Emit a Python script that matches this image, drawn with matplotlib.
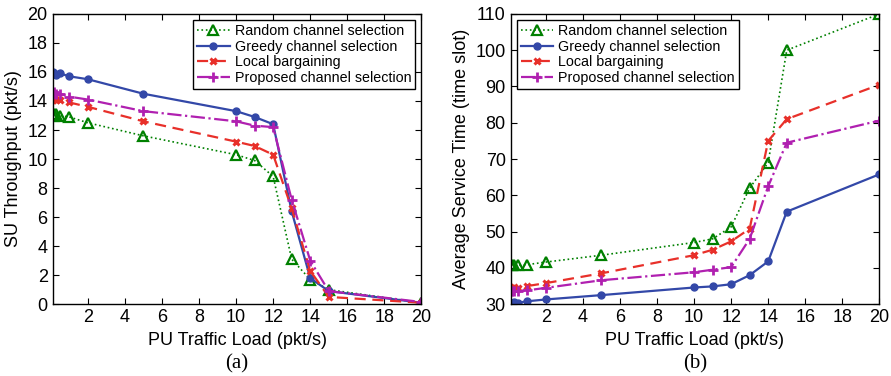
import matplotlib
matplotlib.use("Agg")
import matplotlib.pyplot as plt

plt.rcParams['font.family'] = ['Liberation Sans', 'DejaVu Sans']

# PU traffic load (pkt/s)
load = [0.1, 0.2, 0.3, 0.5, 1, 2, 5, 10, 11, 12, 13, 14, 15, 20]

# (a) SU throughput (pkt/s)
thr_random = [13.0, 13.1, 13.1, 13.0, 12.9, 12.5, 11.6, 10.3, 9.9, 8.8, 3.1, 1.7, 1.0, 0.1]
thr_greedy = [16.0, 15.9, 15.8, 15.9, 15.7, 15.5, 14.5, 13.3, 12.9, 12.4, 6.4, 1.8, 0.9, 0.1]
thr_local = [14.1, 14.2, 14.1, 14.1, 13.9, 13.6, 12.6, 11.2, 10.9, 10.3, 6.6, 2.3, 0.5, 0.1]
thr_proposed = [14.5, 14.6, 14.5, 14.5, 14.3, 14.1, 13.3, 12.6, 12.3, 12.2, 7.2, 3.0, 0.9, 0.15]

# (b) average service time (time slot)
st_random = [40.7, 40.8, 40.8, 40.7, 40.9, 41.6, 43.5, 47.0, 48.0, 51.3, 62.0, 69.0, 100.0, 110.0]
st_greedy = [30.2, 30.4, 30.5, 30.4, 30.8, 31.3, 32.5, 34.6, 34.9, 35.5, 38.0, 41.8, 55.5, 65.8]
st_local = [34.3, 34.5, 34.6, 34.5, 35.0, 35.8, 38.5, 43.5, 45.0, 47.3, 50.8, 75.0, 81.0, 90.5]
st_proposed = [33.5, 33.6, 33.6, 33.5, 33.8, 34.5, 36.6, 38.8, 39.5, 40.2, 48.0, 62.5, 74.5, 80.6]

labels = ["Random channel selection", "Greedy channel selection",
          "Local bargaining", "Proposed channel selection"]

green = "#008000"
blue = "#3348a8"
red = "#e8302a"
magenta = "#b020b0"


def draw(ax, series):
    r, g, l, p = series
    ax.plot(load, r, linestyle=':', color=green, marker='^', markersize=7,
            markerfacecolor='none', markeredgewidth=1.6, linewidth=1.2, label=labels[0])
    ax.plot(load, g, linestyle='-', color=blue, marker='o', markersize=5,
            linewidth=1.6, label=labels[1])
    ax.plot(load, l, linestyle='--', color=red, marker='x', markersize=5,
            markeredgewidth=2.2, linewidth=1.6, dashes=(5, 3), label=labels[2])
    ax.plot(load, p, linestyle='-.', color=magenta, marker='+', markersize=7,
            markeredgewidth=2.0, linewidth=1.6, label=labels[3])
    ax.set_xlim(0.1, 20)
    ax.set_xticks([2, 4, 6, 8, 10, 12, 14, 16, 18, 20])
    ax.tick_params(direction='in', top=True, right=True, labelsize=13, length=4)
    ax.set_xlabel("PU Traffic Load (pkt/s)", fontsize=13)
    for s in ax.spines.values():
        s.set_linewidth(1.0)


def add_legend(ax, loc):
    leg = ax.legend(loc=loc, fontsize=10.3, fancybox=False, edgecolor='black',
                    framealpha=1, borderaxespad=0.45, handlelength=2.3, borderpad=0.25,
                    labelspacing=0.12, handletextpad=0.35)
    leg.get_frame().set_linewidth(1.0)


fig = plt.figure(figsize=(8.91, 3.76), dpi=100)
ax1 = fig.add_axes([0.059, 0.191, 0.414, 0.772])
ax2 = fig.add_axes([0.573, 0.191, 0.414, 0.772])

draw(ax1, (thr_random, thr_greedy, thr_local, thr_proposed))
ax1.set_ylim(0, 20)
ax1.set_yticks(range(0, 21, 2))
ax1.set_ylabel("SU Throughput (pkt/s)", fontsize=13)
add_legend(ax1, 'upper right')

draw(ax2, (st_random, st_greedy, st_local, st_proposed))
ax2.set_ylim(30, 110)
ax2.set_yticks(range(30, 111, 10))
ax2.set_ylabel("Average Service Time (time slot)", fontsize=13)
add_legend(ax2, 'upper left')

fig.text(0.266, 0.02, "(a)", ha='center', fontsize=15, family=['Liberation Serif'])
fig.text(0.78, 0.02, "(b)", ha='center', fontsize=15, family=['Liberation Serif'])

fig.savefig("out.png", dpi=100)
